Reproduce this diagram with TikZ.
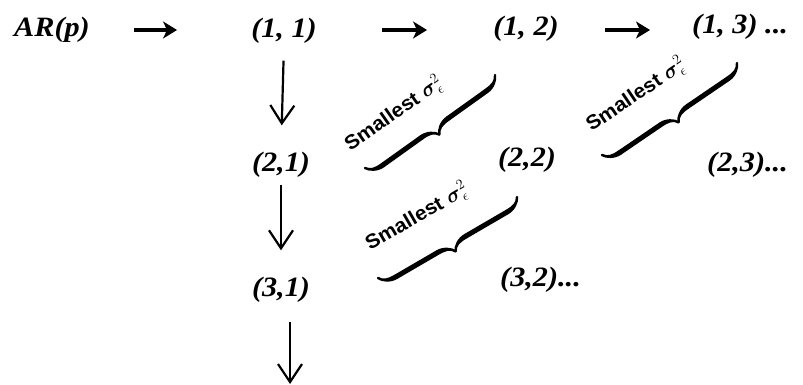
\documentclass[tikz,border=0pt]{standalone}
\usepackage{amsmath,bm}
\usepackage{fontspec}
\setmainfont{Liberation Serif}
\newfontfamily\cellfont[FakeStretch=1.08]{Liberation Serif}
\newfontfamily\labelfont[FakeStretch=1.05]{Liberation Sans}
\usetikzlibrary{positioning,arrows.meta,decorations.pathreplacing,calligraphy}

\begin{document}
\begin{tikzpicture}[
    x=1pt, y=1pt,
    cell/.style={inner sep=0pt,text height=19pt,text depth=6pt,font=\fontsize{28}{30}\cellfont\bfseries\itshape},
    harr/.style={-{Stealth[length=14pt,width=17pt,inset=4pt]},line width=3.5pt},
    varr/.style={-{Straight Barb[length=18pt,width=24pt]},line width=2.2pt},
    brc/.style={decorate,decoration={calligraphic brace,mirror,amplitude=16pt},line width=5pt},
    note/.style={inner sep=0pt,font=\fontsize{20}{22}\labelfont\bfseries}
  ]
    \useasboundingbox (0,0) rectangle (803,384);

    % Row 1
    \node[cell] (ar) at (52,354) {AR(p)};
    \node[cell] (n11) at (284,353) {(1,\ 1)};
    \node[cell] (n12) at (526,355) {(1,\ 2)};
    \node[cell, anchor=west] (n13) at (692,357) {(1,\ 3) ...};

    % Row 2
    \node[cell] (n21) at (281,219) {(2,1)};
    \node[cell] (n22) at (527,224) {(2,2)};
    \node[cell, anchor=west] (n23) at (707,219) {(2,3)...};

    % Row 3
    \node[cell] (n31) at (281,94) {(3,1)};
    \node[cell, anchor=west] (n32) at (500,104) {(3,2)...};
    \coordinate (down) at (290,0);

    % Arrows
    \draw[harr, shorten <=44pt, shorten >=74pt] (ar) -- (ar -| n11.west);
    \draw[harr, shorten <=65pt, shorten >=66pt] (n11.east |- ar) -- (ar -| n12.west);
    \draw[harr, shorten <=46pt, shorten >=42pt] (n12.east |- ar) -- (ar -| n13.west);
    \draw[varr, shorten <=17pt, shorten >=27pt] (n11.south) -- (n21.north);
    \draw[varr, shorten <=7pt, shorten >=27pt] (n21.south) -- (n31.north);
    \draw[varr, shorten <=19pt] (n31.south -| down) -- (down);

    % Braces
    \coordinate (b1a) at (365,216); \coordinate (b1b) at (495,309);
    \coordinate (b2a) at (602,229); \coordinate (b2b) at (737,321);
    \coordinate (b3a) at (378,106); \coordinate (b3b) at (517,187);
    \draw[brc] (b1a) -- (b1b);
    \draw[brc] (b2a) -- (b2b);
    \draw[brc] (b3a) -- (b3b);
    \node[note, rotate=35] (s1) at (394,270) {Smallest $\bm{\sigma}^{2}_{\epsilon}$};
    \node[note, rotate=34] (s2) at (636,289) {Smallest $\bm{\sigma}^{2}_{\epsilon}$};
    \node[note, rotate=30] (s3) at (417,167) {Smallest $\bm{\sigma}^{2}_{\epsilon}$};
  \end{tikzpicture}
\end{document}
